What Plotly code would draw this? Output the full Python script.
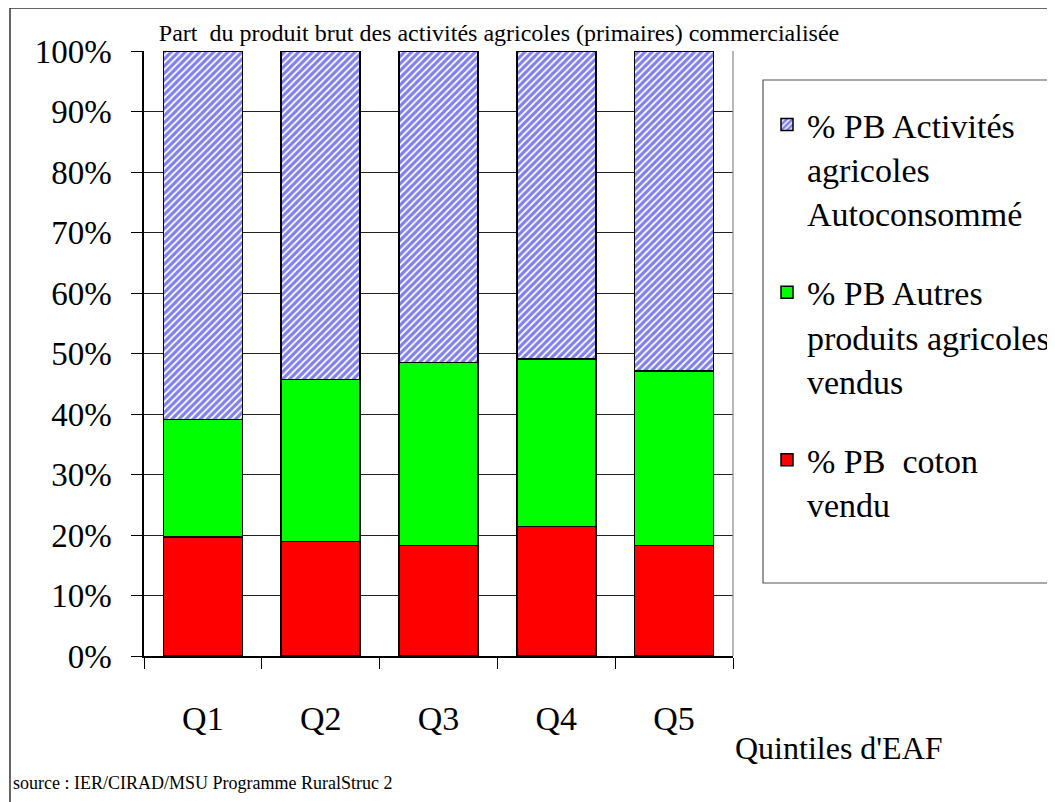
import plotly.graph_objects as go

categories = ["Q1", "Q2", "Q3", "Q4", "Q5"]
coton_vendu = [19.7, 18.9, 18.3, 21.4, 18.3]
autres_vendus = [19.4, 26.8, 30.2, 27.7, 28.8]
autoconsomme = [60.9, 54.3, 51.5, 50.9, 52.9]

names = [
    "% PB  coton<br>vendu",
    "% PB Autres<br>produits agricoles<br>vendus",
    "% PB Activités<br>agricoles<br>Autoconsommé",
]

FONT = "Liberation Serif"
OFF = 8                      # default page body margin
W, H = 1055 - OFF, 802 - OFF
L, R, T, B = 144, 733, 51, 656  # plot area in reference pixels


def px(x):
    return (x - L) / (R - L)


def py(y):
    return (B - y) / (B - T)


fig = go.Figure()
fig.add_trace(go.Bar(
    x=categories, y=coton_vendu, name=names[0], legendgroup="c", legendrank=3,
    marker=dict(color="#FF0000", line=dict(color="black", width=1.5)),
))
fig.add_trace(go.Bar(
    x=categories, y=autres_vendus, name=names[1], legendgroup="b", legendrank=2,
    marker=dict(color="#00FF00", line=dict(color="black", width=1.5)),
))
fig.add_trace(go.Bar(
    x=categories, y=autoconsomme, name=names[2], legendgroup="a", legendrank=1,
    marker=dict(color="white", line=dict(color="black", width=1.5),
                pattern=dict(shape="/", fgcolor="#0000E8", bgcolor="white",
                             size=5, solidity=0.65)),
))

fig.update_layout(
    width=W, height=H,
    barmode="stack", bargap=0.33,
    paper_bgcolor="white", plot_bgcolor="white",
    margin=dict(l=L - OFF, r=1055 - R, t=T - OFF, b=802 - B, autoexpand=False),
    font=dict(family=FONT, size=32, color="black"),
    title=dict(
        text="Part  du produit brut des activités agricoles (primaires) commercialisée",
        font=dict(family=FONT, size=24, color="black"),
        x=(499 - OFF) / W, xanchor="center", xref="container",
        y=1 - (33 - OFF) / H, yanchor="middle", yref="container",
    ),
    showlegend=True,
    legend=dict(
        x=px(767), xanchor="left", y=py(96), yanchor="top",
        traceorder="grouped", tracegroupgap=32,
        valign="top", bgcolor="rgba(0,0,0,0)", borderwidth=0,
        font=dict(family=FONT, size=34, color="black"),
    ),
    xaxis=dict(
        showline=True, linecolor="black", linewidth=1.5,
        ticks="outside", tickson="boundaries", ticklen=11, tickcolor="black",
        tickfont=dict(family=FONT, size=34), ticklabelstandoff=31,
        showgrid=False,
    ),
    yaxis=dict(
        range=[0, 100], dtick=10, ticksuffix="%",
        showline=True, linecolor="black", linewidth=1.5,
        ticks="outside", ticklen=11, tickcolor="black",
        tickfont=dict(family=FONT, size=33), ticklabelstandoff=13,
        showgrid=True, gridcolor="#222222", gridwidth=1,
        zeroline=False,
    ),
    shapes=[
        # outer chart frame
        dict(type="rect", xref="paper", yref="paper",
             x0=px(10), x1=px(1065), y0=py(815), y1=py(8),
             line=dict(color="#333333", width=1.5), fillcolor="rgba(0,0,0,0)"),
        # legend frame
        dict(type="rect", xref="paper", yref="paper",
             x0=px(763), x1=px(1065), y0=py(583), y1=py(80),
             line=dict(color="#555555", width=1.2), fillcolor="rgba(0,0,0,0)"),
        # plot area right edge
        dict(type="line", xref="paper", yref="paper",
             x0=1, x1=1, y0=0, y1=1,
             line=dict(color="#888888", width=1.2)),
    ],
    annotations=[
        dict(text="Quintiles d'EAF", xref="paper", yref="paper",
             x=px(733), y=py(748), xanchor="left", yanchor="middle",
             showarrow=False, font=dict(family=FONT, size=32, color="black")),
        dict(text="source : IER/CIRAD/MSU Programme RuralStruc 2",
             xref="paper", yref="paper",
             x=px(11), y=py(783), xanchor="left", yanchor="middle",
             showarrow=False, font=dict(family=FONT, size=18, color="black")),
    ],
)

fig.write_html("out.html")
